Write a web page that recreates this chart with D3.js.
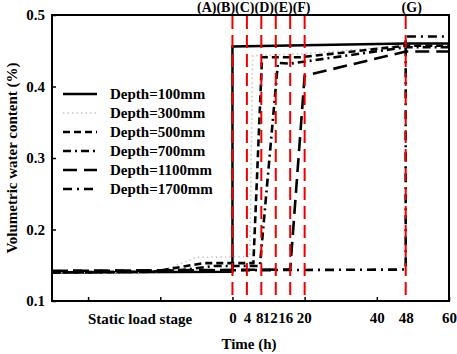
<!DOCTYPE html>
<html>
<head>
<meta charset="utf-8">
<script src="https://cdn.jsdelivr.net/npm/d3@7"></script>
<style>
  html, body { margin: 0; padding: 0; background: #fff; }
  svg { display: block; font-family: "Liberation Serif", "Times New Roman", serif; font-weight: bold; }
</style>
</head>
<body>
<svg id="chart" width="457" height="354"></svg>
<script>
// ---- data ----
const seriesNames = ["Depth=100mm", "Depth=300mm", "Depth=500mm", "Depth=700mm", "Depth=1100mm", "Depth=1700mm"];
const t100  = [-50, 0, 0, 48, 60];
const v100  = [0.140, 0.141, 0.456, 0.460, 0.460];
const t300  = [-50, -20, -10, 4.8, 5.6, 20, 48, 60];
const v300  = [0.140, 0.141, 0.161, 0.162, 0.443, 0.446, 0.457, 0.457];
const t500  = [-50, -22, -8, 5.8, 8.2, 19, 48, 60];
const v500  = [0.140, 0.141, 0.153, 0.153, 0.441, 0.441, 0.457, 0.457];
const t700  = [-50, -18, -5, 7.6, 12.6, 16, 48, 60];
const v700  = [0.140, 0.141, 0.149, 0.149, 0.433, 0.432, 0.455, 0.455];
const t1100 = [-50, 16, 20, 48, 60];
const v1100 = [0.142, 0.144, 0.415, 0.449, 0.449];
const t1700 = [-50, 48, 48, 60];
const v1700 = [0.142, 0.144, 0.470, 0.470];
const stageTimes = [0, 4, 8, 12, 16, 20, 48];
const stageLabelsLeft = "(A)(B)(C)(D)(E)(F)";
const stageLabelRight = "(G)";
const yTicks = [0.1, 0.2, 0.3, 0.4, 0.5];
const xMajorTicks = [-40, -20, 0, 20, 40, 60];
const xLabelTicks = [0, 4, 8, 12, 16, 20, 40, 48, 60];
const staticLabel = "Static load stage";
const xTitle = "Time (h)";
const yTitle = "Volumetric water content (%)";

// ---- layout ----
const svg = d3.select("#chart");
const L = 52, R = 449, T = 15, B = 301;
const x = d3.scaleLinear().domain([-50, 60]).range([L, R]);
const y = d3.scaleLinear().domain([0.1, 0.5]).range([B, T]);

const styles = [
  { color: "#000", width: 2.5, dash: null },
  { color: "#c8c8c8", width: 1.6, dash: "1.5,3" },
  { color: "#000", width: 2.6, dash: "7,4" },
  { color: "#000", width: 2.6, dash: "8,4,2,4" },
  { color: "#000", width: 2.6, dash: "14,7" },
  { color: "#000", width: 2.6, dash: "9,5,2,5" }
];
const series = [
  [t100, v100], [t300, v300], [t500, v500], [t700, v700], [t1100, v1100], [t1700, v1700]
];

const line = d3.line().x(d => x(d[0])).y(d => y(d[1]));

// data lines
series.forEach((s, i) => {
  const pts = s[0].map((t, k) => [t, s[1][k]]);
  svg.append("path")
    .attr("d", line(pts))
    .attr("fill", "none")
    .attr("stroke", styles[i].color)
    .attr("stroke-width", styles[i].width)
    .attr("stroke-dasharray", styles[i].dash);
});

// red stage lines
svg.selectAll("line.stage").data(stageTimes).enter().append("line")
  .attr("x1", d => x(d)).attr("x2", d => x(d))
  .attr("y1", T + 1).attr("y2", B)
  .attr("stroke", "#ee0000").attr("stroke-width", 2)
  .attr("stroke-dasharray", "13,6");

// frame
svg.append("rect").attr("x", L).attr("y", T).attr("width", R - L).attr("height", B - T)
  .attr("fill", "none").attr("stroke", "#000").attr("stroke-width", 2);

// y axis
const yAx = svg.append("g").attr("transform", `translate(${L},0)`)
  .call(d3.axisLeft(y).tickValues(yTicks).tickSize(-4).tickPadding(7).tickFormat(d3.format(".1f")));
yAx.select(".domain").remove();
yAx.selectAll("line").attr("stroke", "#000").attr("stroke-width", 1.5);
yAx.selectAll("text").attr("font-size", 15).attr("font-weight", "bold")
  .attr("font-family", "Liberation Serif, serif").attr("fill", "#000");

// x axis tick marks
const xAx = svg.append("g").attr("transform", `translate(0,${B})`)
  .call(d3.axisBottom(x).tickValues(xMajorTicks).tickSize(-4).tickFormat(""));
xAx.select(".domain").remove();
xAx.selectAll("line").attr("stroke", "#000").attr("stroke-width", 1.5);

// x labels
const nudge = { 8: -2, 12: -6, 16: -5, 20: -1 };
const xLab = svg.append("g").attr("transform", `translate(0,${B})`)
  .call(d3.axisBottom(x).tickValues(xLabelTicks).tickSize(0).tickPadding(11).tickFormat(d3.format("d")));
xLab.select(".domain").remove();
xLab.selectAll("text").attr("font-size", 15).attr("font-weight", "bold")
  .attr("font-family", "Liberation Serif, serif").attr("fill", "#000")
  .attr("dx", d => nudge[d] || 0);

svg.append("text").attr("x", 140).attr("y", 324).attr("text-anchor", "middle")
  .attr("font-size", 15).text(staticLabel);
svg.append("text").attr("x", 249).attr("y", 349).attr("text-anchor", "middle")
  .attr("font-size", 15).text(xTitle);
svg.append("text").attr("transform", "translate(17,158) rotate(-90)").attr("text-anchor", "middle")
  .attr("font-size", 15).text(yTitle);

// stage labels
svg.append("text").attr("x", 197).attr("y", 12).attr("font-size", 14).text(stageLabelsLeft);
svg.append("text").attr("x", x(48) + 6).attr("y", 12).attr("text-anchor", "middle")
  .attr("font-size", 14).text(stageLabelRight);

// legend
const lg = svg.append("g");
seriesNames.forEach((name, i) => {
  const ry = 94 + i * 19;
  lg.append("line").attr("x1", 63).attr("x2", 97).attr("y1", ry).attr("y2", ry)
    .attr("stroke", styles[i].color).attr("stroke-width", styles[i].width)
    .attr("stroke-dasharray", styles[i].dash);
  lg.append("text").attr("x", 110).attr("y", ry + 5).attr("font-size", 15).text(name);
});
</script>
</body>
</html>
